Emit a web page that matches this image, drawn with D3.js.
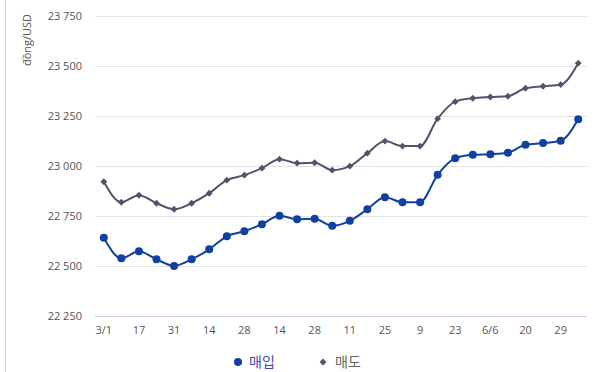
<!DOCTYPE html>
<html>
<head>
<meta charset="utf-8">
<script src="https://cdn.jsdelivr.net/npm/d3@7"></script>
<style>
  body { margin: 0; background: #fff; }
  #chart svg { display: block; }
</style>
</head>
<body>
<div id="chart"></div>
<script>
const xLabels = ["3/1", "17", "31", "14", "28", "14", "28", "11", "25", "9", "23", "6/6", "20", "29"];
const buy = [22640, 22538, 22573, 22533, 22500, 22533, 22583, 22648, 22673, 22708, 22750, 22733, 22735, 22700,
             22725, 22783, 22843, 22818, 22818, 22955, 23038, 23055, 23058, 23065, 23105, 23113, 23125, 23232];
const sell = [22920, 22818, 22853, 22813, 22783, 22813, 22863, 22928, 22953, 22988, 23033, 23013, 23015, 22978,
              22998, 23063, 23123, 23098, 23098, 23235, 23320, 23337, 23343, 23347, 23387, 23397, 23405, 23512];
const yTicks = [22250, 22500, 22750, 23000, 23250, 23500, 23750];
const seriesNames = ["매입", "매도"];

const width = 600, height = 372;
const margin = { top: 15.5, right: 13, bottom: 56, left: 95 };

const svg = d3.select("#chart")
    .append("svg")
    .attr("width", width)
    .attr("height", height);

// left border line
svg.append("line")
    .attr("x1", 5.5).attr("x2", 5.5)
    .attr("y1", 0).attr("y2", height)
    .attr("stroke", "#d6d6d6");

const xScale = d3.scalePoint()
    .domain(d3.range(buy.length))
    .range([margin.left, width - margin.right])
    .padding(0.5);

const yScale = d3.scaleLinear()
    .domain([22250, 23750])
    .range([height - margin.bottom, margin.top]);

const fmt = d3.formatLocale({ decimal: ",", thousands: " ", grouping: [3], currency: ["", ""] }).format(",");

// gridlines
svg.append("g")
    .selectAll("line")
    .data(yTicks)
    .join("line")
    .attr("x1", margin.left)
    .attr("x2", width - margin.right)
    .attr("y1", d => Math.round(yScale(d)) + 0.5)
    .attr("y2", d => Math.round(yScale(d)) + 0.5)
    .attr("stroke", d => d === 22250 ? "#c9d1ee" : "#e3e3e3");

// y labels
svg.append("g")
    .selectAll("text")
    .data(yTicks)
    .join("text")
    .attr("x", 82)
    .attr("y", d => yScale(d) + 4)
    .attr("text-anchor", "end")
    .style("font-family", "'Open Sans', sans-serif")
    .style("font-size", "11px")
    .attr("fill", "#555")
    .text(d => fmt(d));

// x labels
svg.append("g")
    .selectAll("text")
    .data(xLabels)
    .join("text")
    .attr("x", (d, i) => xScale(i * 2))
    .attr("y", 334)
    .attr("text-anchor", "middle")
    .style("font-family", "'Open Sans', sans-serif")
    .style("font-size", "11px")
    .attr("fill", "#555")
    .text(d => d);

// y-axis title
svg.append("text")
    .attr("transform", "rotate(-90)")
    .attr("x", -40)
    .attr("y", 31)
    .attr("text-anchor", "middle")
    .style("font-family", "'Open Sans', sans-serif")
    .style("font-size", "11px")
    .attr("fill", "#555")
    .text("đồng/USD");

const line = d3.line()
    .x((d, i) => xScale(i))
    .y(d => yScale(d))
    .curve(d3.curveMonotoneX);

const buyColor = "#1040a0", sellColor = "#56506e";

svg.append("path")
    .datum(sell)
    .attr("d", line)
    .attr("fill", "none")
    .attr("stroke", sellColor)
    .attr("stroke-width", 2);

svg.append("g")
    .selectAll("path")
    .data(sell)
    .join("path")
    .attr("d", d3.symbol(d3.symbolDiamond2, 30))
    .attr("transform", (d, i) => `translate(${xScale(i)},${yScale(d)})`)
    .attr("fill", sellColor);

svg.append("path")
    .datum(buy)
    .attr("d", line)
    .attr("fill", "none")
    .attr("stroke", buyColor)
    .attr("stroke-width", 2);

svg.append("g")
    .selectAll("circle")
    .data(buy)
    .join("circle")
    .attr("cx", (d, i) => xScale(i))
    .attr("cy", d => yScale(d))
    .attr("r", 4)
    .attr("fill", buyColor);

// legend
const legend = svg.append("g");
legend.append("circle")
    .attr("cx", 238).attr("cy", 362).attr("r", 4)
    .attr("fill", buyColor);
legend.append("text")
    .attr("x", 249).attr("y", 367)
    .style("font-family", "'Noto Sans CJK KR', sans-serif")
    .style("font-size", "14px")
    .attr("fill", "#3a4bb0")
    .text(seriesNames[0]);
legend.append("path")
    .attr("d", d3.symbol(d3.symbolDiamond2, 30))
    .attr("transform", "translate(323,362)")
    .attr("fill", sellColor);
legend.append("text")
    .attr("x", 335).attr("y", 367)
    .style("font-family", "'Noto Sans CJK KR', sans-serif")
    .style("font-size", "14px")
    .attr("fill", "#666")
    .text(seriesNames[1]);
</script>
</body>
</html>
